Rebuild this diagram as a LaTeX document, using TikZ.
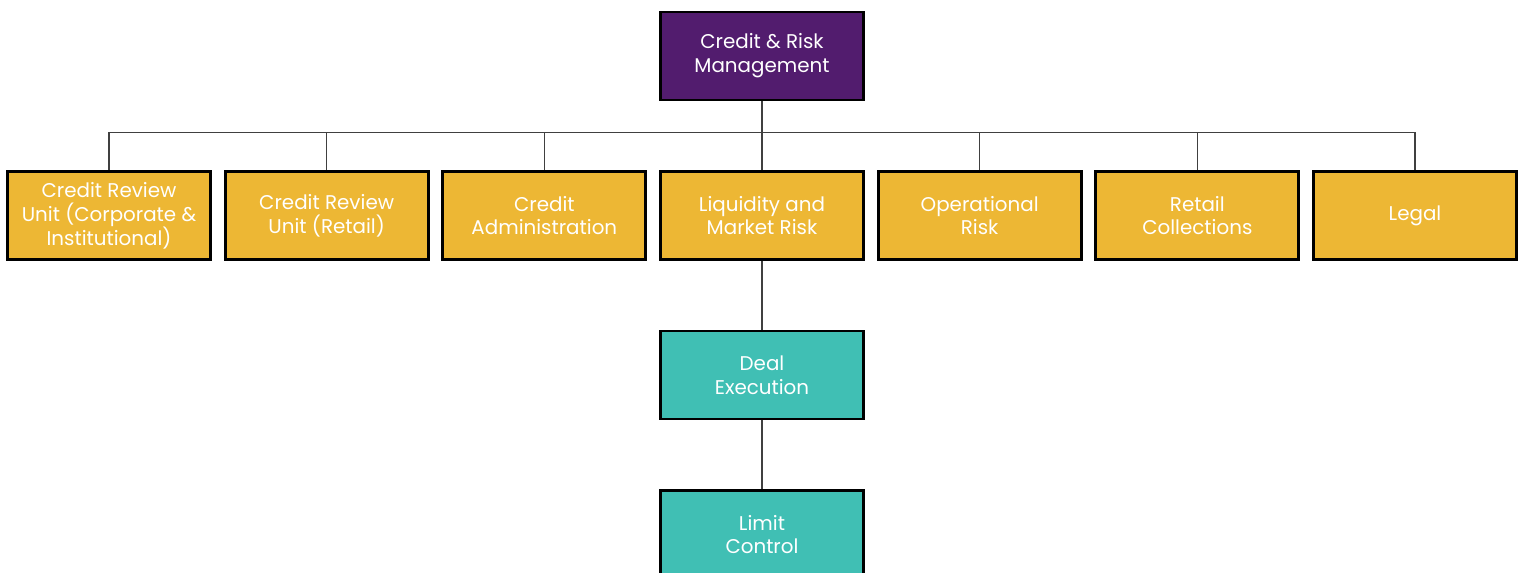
\documentclass[tikz,border=0pt]{standalone}
\usepackage{fontspec}
\setmainfont{Poppins}
\usetikzlibrary{trees}
\definecolor{riskpurple}{RGB}{82,28,110}
\definecolor{unitgold}{RGB}{237,183,52}
\definecolor{deskteal}{RGB}{64,191,180}

\begin{document}
\begin{tikzpicture}
        [level distance=3.19cm,
        every node/.style={rectangle,draw=black,line width=1.7pt,
                     minimum width=4.06cm,minimum height=1.76cm,inner sep=2pt,
                     fill=riskpurple,text=white,align=center,
                     font=\fontsize{11.3}{13.6}\selectfont},
        edge from parent/.style={draw=black!75,line width=0.85pt},
        edge from parent path={(\tikzparentnode.south) -- ++(0,-0.62)
                     -| (\tikzchildnode.north)},
        level 1/.style={sibling distance=4.3533cm,nodes={fill=unitgold}},
        level 2/.style={nodes={fill=deskteal}},
        level 3/.style={nodes={fill=deskteal}}]
        \useasboundingbox (0,0) rectangle (30.44,-11.46);
        \node (crm) at (15.24,-1.12) {Credit \& Risk\\Management}
            child {node (cruci) {Credit Review\\Unit (Corporate \&\\Institutional)}}
            child {node (crur) {Credit Review\\Unit (Retail)}}
            child {node (cadm) {Credit\\Administration}}
            child {node (lmr) {Liquidity and\\Market Risk}
                child {node (deal) {Deal\\Execution}
                    child {node (limit) {Limit\\Control}}}
            }
            child {node (oprisk) {Operational\\Risk}}
            child {node (rcoll) {Retail\\Collections}}
            child {node (legal) {Legal}}
        ;
\end{tikzpicture}
\end{document}
